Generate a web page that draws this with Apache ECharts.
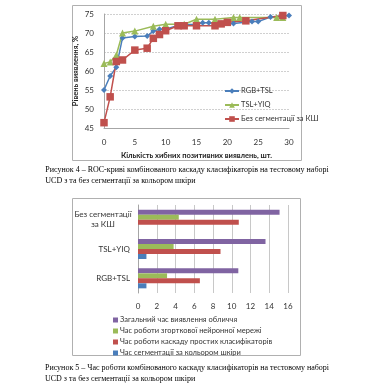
<!DOCTYPE html>
<html><head><meta charset="utf-8">
<script src="https://cdn.jsdelivr.net/npm/echarts@6/dist/echarts.min.js"></script>
<style>html,body{margin:0;padding:0;background:#fff}#c{width:374px;height:386px}</style>
</head><body><div id="c"></div>
<script>
// ---- Figure 4: ROC curves ----
const rgbTslX = [0,1,2,3,5,7,8,9,10,12,13,15,16,17,19,21,24,25,27,30];
const rgbTslY = [55,58.7,61,68.7,69.1,69.2,70.5,71,71,72,72.2,72.3,72.7,72.7,72.5,72.5,73,73,74.2,74.6];
const tslYiqX = [0,1,2,3,5,8,10,13,15,18,21,22,28,29];
const tslYiqY = [62,62.4,64.2,70,70.5,71.8,72.3,72.3,73.6,73.6,74.1,74.1,74.1,74.1];
const noSegX = [0,1,2,3,5,7,8,9,10,12,13,15,18,19,20,23,29];
const noSegY = [46.4,53.2,62.5,62.9,65.5,66,68.6,69.6,70.6,71.9,71.9,71.9,71.9,72.4,72.8,73.2,74.6];
const rocNames = ['RGB+TSL','TSL+YIQ','Без сегментації за КШ'];

// ---- Figure 5: timing ----
const timeCats = ['RGB+TSL','TSL+YIQ','Без сегментації за КШ'];
const segTime = [0.9, 0.9, 0];
const cascadeTime = [6.6, 8.8, 10.75];
const cnnTime = [3.1, 3.8, 4.35];
const totalTime = [10.7, 13.6, 15.1];
const timeNames = ['Загальний час виявлення обличчя','Час роботи згорткової нейронної мережі','Час роботи каскаду простих класифікаторів','Час сегментації за кольором шкіри'];

const zip = (xs, ys) => xs.map((x,i)=>[x, ys[i]]);
const F = 'Lato, "Open Sans", sans-serif';
const SERIF = '"Liberation Serif", "DejaVu Serif", serif';
const BLUE='#4a7ebb', RED='#c0504d', GREEN='#9bbb59', PURPLE='#8064a2';

const chart = echarts.init(document.getElementById('c'), null, {renderer:'canvas'});
chart.setOption({
  animation:false,
  textStyle:{fontFamily:F},
  grid:[
    {left:104, top:14, width:185, height:114},
    {left:138, top:205, width:150, height:88}
  ],
  xAxis:[
    {gridIndex:0, type:'value', min:0, max:30, interval:5,
     name:'Кількість хибних позитивних виявлень, шт.', nameLocation:'middle', nameGap:24,
     nameTextStyle:{fontSize:7.5, fontWeight:'bold', color:'#222', fontFamily:F},
     axisLine:{show:true, lineStyle:{color:'#a6a6a6'}}, axisTick:{show:false},
     axisLabel:{fontSize:8, color:'#333', margin:10},
     splitLine:{show:false}},
    {gridIndex:1, type:'value', min:0, max:16, interval:2,
     axisLine:{show:false}, axisTick:{show:false},
     axisLabel:{fontSize:8, color:'#333', margin:9},
     splitLine:{show:true, lineStyle:{color:'#c8c8c8', width:1}}}
  ],
  yAxis:[
    {gridIndex:0, type:'value', min:45, max:75, interval:5,
     name:'Рівень виявлення, %', nameLocation:'middle', nameGap:24,
     nameTextStyle:{fontSize:7.5, fontWeight:'bold', color:'#222', fontFamily:F},
     axisLine:{show:true, lineStyle:{color:'#a6a6a6'}}, axisTick:{show:false},
     axisLabel:{fontSize:8, color:'#333', margin:10},
     splitLine:{show:true, lineStyle:{color:'#d0d0d0', type:[2,1]}}},
    {gridIndex:1, type:'category', data:timeCats,
     axisLine:{show:true, lineStyle:{color:'#a6a6a6'}}, axisTick:{show:false},
     axisLabel:{fontSize:8, color:'#333', margin:8,
       formatter: v => v.length > 10 ? '{c|Без сегментації}\n{c|за КШ}' : v,
       rich:{c:{width:54, align:'center', fontSize:8, color:'#333', lineHeight:10, fontFamily:F}}}}
  ],
  legend:[
    {data:rocNames, orient:'vertical', left:219, top:82, itemGap:6, itemWidth:14, itemHeight:7,
     textStyle:{fontSize:7.5, color:'#333', fontFamily:F, padding:[0,0,0,-3]}},
    {data:timeNames, orient:'vertical', left:108, top:311, itemGap:3, itemWidth:5, itemHeight:5, icon:'rect',
     textStyle:{fontSize:7.5, color:'#333', fontFamily:F, padding:[0,0,0,-3]}}
  ],
  series:[
    {name:rocNames[0], type:'line', xAxisIndex:0, yAxisIndex:0, data:zip(rgbTslX,rgbTslY),
     symbol:'diamond', symbolSize:6, lineStyle:{color:BLUE, width:1.5}, itemStyle:{color:BLUE}},
    {name:rocNames[1], type:'line', xAxisIndex:0, yAxisIndex:0, data:zip(tslYiqX,tslYiqY),
     symbol:'triangle', symbolSize:7, lineStyle:{color:GREEN, width:1.5}, itemStyle:{color:GREEN}},
    {name:rocNames[2], type:'line', xAxisIndex:0, yAxisIndex:0, data:zip(noSegX,noSegY),
     symbol:'rect', symbolSize:7.5, lineStyle:{color:RED, width:1.5}, itemStyle:{color:RED}},
    {name:timeNames[0], type:'bar', xAxisIndex:1, yAxisIndex:1, data:totalTime, barWidth:5, barGap:'0%', itemStyle:{color:PURPLE}},
    {name:timeNames[1], type:'bar', xAxisIndex:1, yAxisIndex:1, data:cnnTime, barWidth:5, barGap:'0%', itemStyle:{color:GREEN}},
    {name:timeNames[2], type:'bar', xAxisIndex:1, yAxisIndex:1, data:cascadeTime, barWidth:5, barGap:'0%', itemStyle:{color:RED}},
    {name:timeNames[3], type:'bar', xAxisIndex:1, yAxisIndex:1, data:segTime, barWidth:5, barGap:'0%', itemStyle:{color:BLUE}}
  ],
  graphic:[
    {type:'rect', shape:{x:72.5, y:5.5, width:229, height:155}, style:{fill:null, stroke:'#b0b0b0', lineWidth:1}, silent:true},
    {type:'rect', shape:{x:72.5, y:198.5, width:228, height:157}, style:{fill:null, stroke:'#b0b0b0', lineWidth:1}, silent:true},
    {type:'text', left:'center', top:164, style:{text:'Рисунок 4 – ROC-криві комбінованого каскаду класифікаторів на тестовому наборі\nUCD з та без сегментації за кольором шкіри', align:'center', font:'8px '+SERIF, fill:'#000', lineHeight:11.5}},
    {type:'text', left:'center', top:362, style:{text:'Рисунок 5 – Час роботи комбінованого каскаду класифікаторів на тестовому наборі\nUCD з та без сегментації за кольором шкіри', align:'center', font:'8px '+SERIF, fill:'#000', lineHeight:11.5}}
  ]
});
</script></body></html>
